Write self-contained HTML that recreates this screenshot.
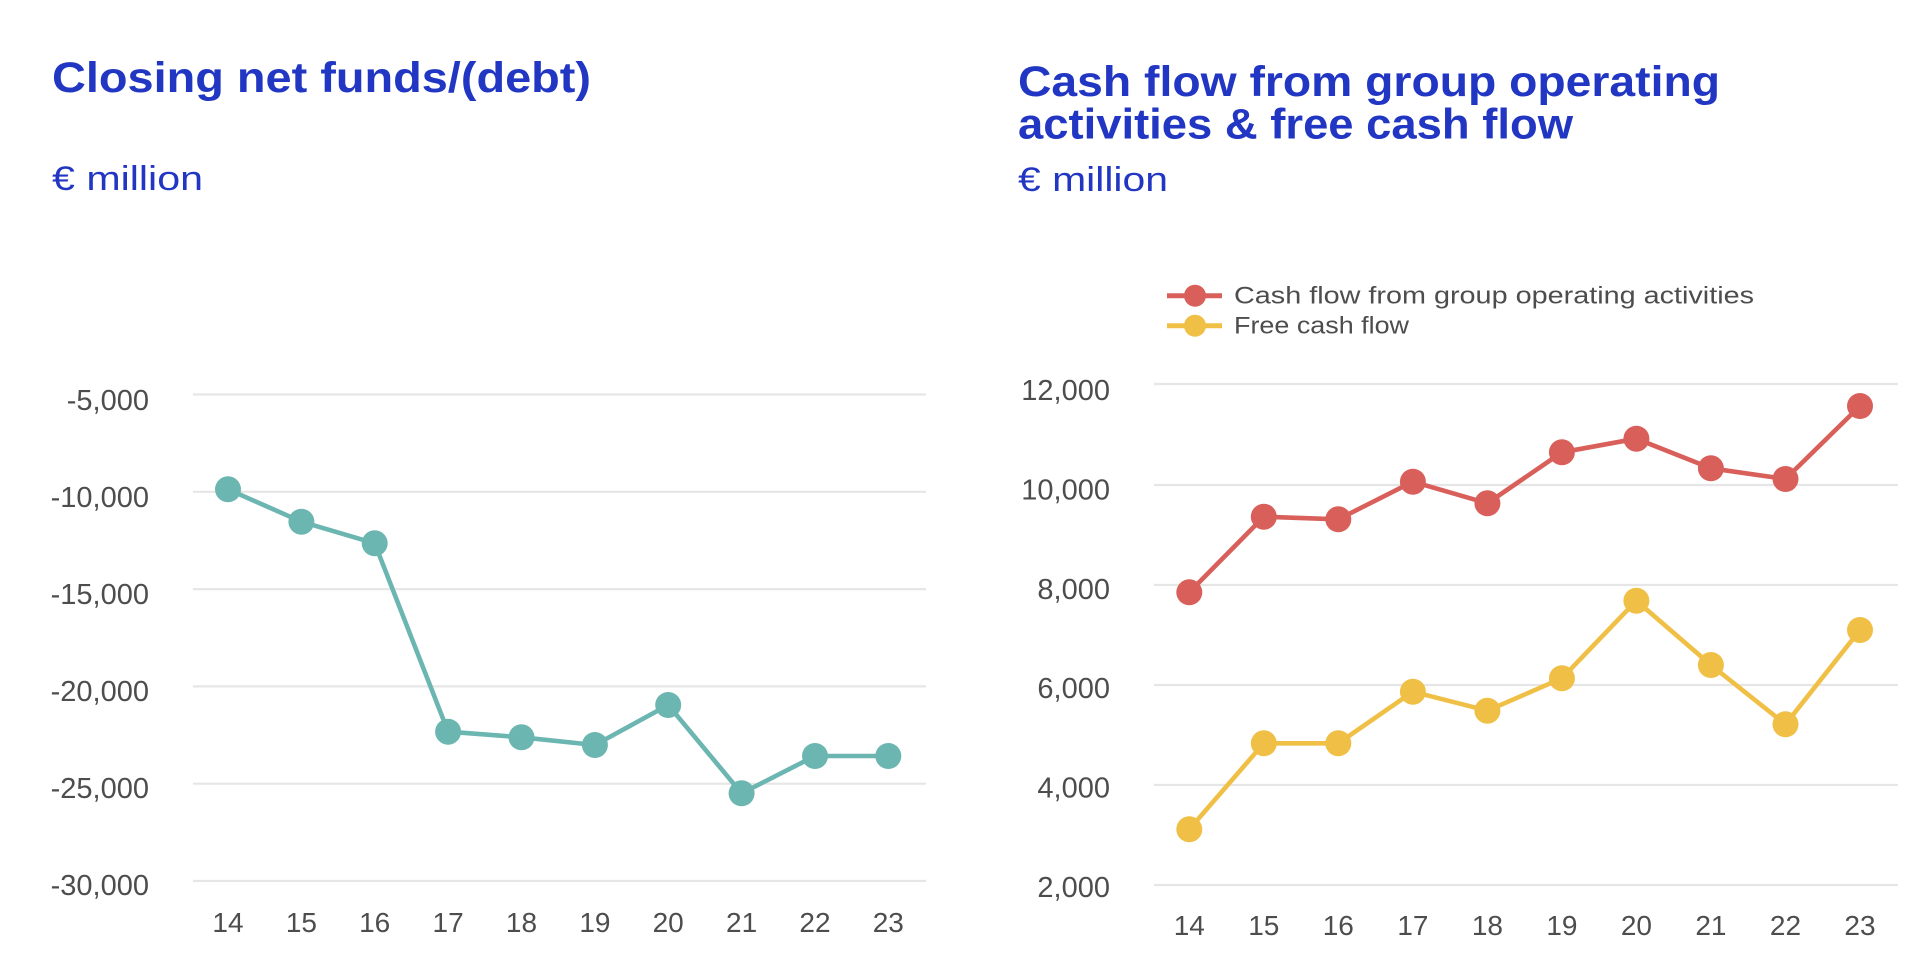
<!DOCTYPE html>
<html>
<head>
<meta charset="utf-8">
<style>
  html, body { margin: 0; padding: 0; background: #ffffff; }
  svg { display: block; }
  .title { font-family: "Liberation Sans", sans-serif; font-weight: bold; font-size: 43px; fill: #2136c2; }
  .sub { font-family: "Liberation Sans", sans-serif; font-size: 34px; fill: #2136c2; }
  .tick { font-family: "Liberation Sans", sans-serif; font-size: 29px; fill: #4d4d4d; }
  .xt { font-family: "Liberation Sans", sans-serif; font-size: 28px; fill: #4d4d4d; }
  .leg { font-family: "Liberation Sans", sans-serif; font-size: 24px; fill: #4d4d4d; }
  .grid { stroke: #e6e6e6; stroke-width: 2.2; }
</style>
</head>
<body>
<svg width="1920" height="964" viewBox="0 0 1920 964" xmlns="http://www.w3.org/2000/svg">
  <rect width="1920" height="964" fill="#ffffff"/>

  <!-- LEFT CHART -->
  <text class="title" x="52" y="92" textLength="539" lengthAdjust="spacingAndGlyphs">Closing net funds/(debt)</text>
  <text class="sub" x="52" y="190" textLength="151" lengthAdjust="spacingAndGlyphs">€ million</text>

  <g>
    <line class="grid" x1="193" x2="926" y1="394.5" y2="394.5"/>
    <line class="grid" x1="193" x2="926" y1="491.8" y2="491.8"/>
    <line class="grid" x1="193" x2="926" y1="589.1" y2="589.1"/>
    <line class="grid" x1="193" x2="926" y1="686.4" y2="686.4"/>
    <line class="grid" x1="193" x2="926" y1="783.7" y2="783.7"/>
    <line class="grid" x1="193" x2="926" y1="881" y2="881"/>
  </g>
  <g text-anchor="end">
    <text class="tick" x="149" y="410">-5,000</text>
    <text class="tick" x="149" y="507">-10,000</text>
    <text class="tick" x="149" y="604">-15,000</text>
    <text class="tick" x="149" y="701">-20,000</text>
    <text class="tick" x="149" y="798">-25,000</text>
    <text class="tick" x="149" y="895">-30,000</text>
  </g>
  <g text-anchor="middle">
    <text class="xt" x="228" y="932">14</text>
    <text class="xt" x="301.4" y="932">15</text>
    <text class="xt" x="374.7" y="932">16</text>
    <text class="xt" x="448.1" y="932">17</text>
    <text class="xt" x="521.5" y="932">18</text>
    <text class="xt" x="594.9" y="932">19</text>
    <text class="xt" x="668.2" y="932">20</text>
    <text class="xt" x="741.6" y="932">21</text>
    <text class="xt" x="815" y="932">22</text>
    <text class="xt" x="888.3" y="932">23</text>
  </g>
  <polyline fill="none" stroke="#6cb6b1" stroke-width="4.6" stroke-linejoin="round"
    points="228,489.3 301.4,521.7 374.7,543.3 448.1,731.7 521.5,737.3 594.9,745 668.2,705 741.6,793.3 815,756 888.3,756"/>
  <g fill="#6cb6b1">
    <circle cx="228" cy="489.3" r="13"/>
    <circle cx="301.4" cy="521.7" r="13"/>
    <circle cx="374.7" cy="543.3" r="13"/>
    <circle cx="448.1" cy="731.7" r="13"/>
    <circle cx="521.5" cy="737.3" r="13"/>
    <circle cx="594.9" cy="745" r="13"/>
    <circle cx="668.2" cy="705" r="13"/>
    <circle cx="741.6" cy="793.3" r="13"/>
    <circle cx="815" cy="756" r="13"/>
    <circle cx="888.3" cy="756" r="13"/>
  </g>

  <!-- RIGHT CHART -->
  <text class="title" x="1018" y="96" textLength="702" lengthAdjust="spacingAndGlyphs">Cash flow from group operating</text>
  <text class="title" x="1018" y="138.5" textLength="555" lengthAdjust="spacingAndGlyphs">activities &amp; free cash flow</text>
  <text class="sub" x="1018" y="191" textLength="150" lengthAdjust="spacingAndGlyphs">€ million</text>

  <!-- legend -->
  <line x1="1167" x2="1222" y1="295.7" y2="295.7" stroke="#d9605a" stroke-width="5"/>
  <circle cx="1195" cy="295.7" r="11" fill="#d9605a"/>
  <text class="leg" x="1234" y="303.5" textLength="520" lengthAdjust="spacingAndGlyphs">Cash flow from group operating activities</text>
  <line x1="1167" x2="1222" y1="325.7" y2="325.7" stroke="#f0bf45" stroke-width="5"/>
  <circle cx="1195" cy="325.7" r="11" fill="#f0bf45"/>
  <text class="leg" x="1234" y="333.5" textLength="175" lengthAdjust="spacingAndGlyphs">Free cash flow</text>

  <g>
    <line class="grid" x1="1154" x2="1898" y1="384" y2="384"/>
    <line class="grid" x1="1154" x2="1898" y1="485" y2="485"/>
    <line class="grid" x1="1154" x2="1898" y1="585" y2="585"/>
    <line class="grid" x1="1154" x2="1898" y1="685" y2="685"/>
    <line class="grid" x1="1154" x2="1898" y1="785" y2="785"/>
    <line class="grid" x1="1154" x2="1898" y1="885" y2="885"/>
  </g>
  <g text-anchor="end">
    <text class="tick" x="1110" y="400">12,000</text>
    <text class="tick" x="1110" y="499.5">10,000</text>
    <text class="tick" x="1110" y="599">8,000</text>
    <text class="tick" x="1110" y="698">6,000</text>
    <text class="tick" x="1110" y="797.5">4,000</text>
    <text class="tick" x="1110" y="897">2,000</text>
  </g>
  <g text-anchor="middle">
    <text class="xt" x="1189.3" y="935">14</text>
    <text class="xt" x="1263.8" y="935">15</text>
    <text class="xt" x="1338.3" y="935">16</text>
    <text class="xt" x="1412.9" y="935">17</text>
    <text class="xt" x="1487.4" y="935">18</text>
    <text class="xt" x="1561.9" y="935">19</text>
    <text class="xt" x="1636.4" y="935">20</text>
    <text class="xt" x="1710.9" y="935">21</text>
    <text class="xt" x="1785.5" y="935">22</text>
    <text class="xt" x="1860" y="935">23</text>
  </g>

  <polyline fill="none" stroke="#d9605a" stroke-width="4.6" stroke-linejoin="round"
    points="1189.3,592.3 1263.8,516.7 1338.3,519.3 1412.9,481.7 1487.4,503.3 1561.9,452.3 1636.4,438.7 1710.9,468.3 1785.5,479 1860,406"/>
  <g fill="#d9605a">
    <circle cx="1189.3" cy="592.3" r="13"/>
    <circle cx="1263.8" cy="516.7" r="13"/>
    <circle cx="1338.3" cy="519.3" r="13"/>
    <circle cx="1412.9" cy="481.7" r="13"/>
    <circle cx="1487.4" cy="503.3" r="13"/>
    <circle cx="1561.9" cy="452.3" r="13"/>
    <circle cx="1636.4" cy="438.7" r="13"/>
    <circle cx="1710.9" cy="468.3" r="13"/>
    <circle cx="1785.5" cy="479" r="13"/>
    <circle cx="1860" cy="406" r="13"/>
  </g>

  <polyline fill="none" stroke="#f0bf45" stroke-width="4.6" stroke-linejoin="round"
    points="1189.3,829.3 1263.8,743.3 1338.3,743.3 1412.9,691.7 1487.4,710.7 1561.9,678.3 1636.4,600.7 1710.9,665 1785.5,724.3 1860,630"/>
  <g fill="#f0bf45">
    <circle cx="1189.3" cy="829.3" r="13"/>
    <circle cx="1263.8" cy="743.3" r="13"/>
    <circle cx="1338.3" cy="743.3" r="13"/>
    <circle cx="1412.9" cy="691.7" r="13"/>
    <circle cx="1487.4" cy="710.7" r="13"/>
    <circle cx="1561.9" cy="678.3" r="13"/>
    <circle cx="1636.4" cy="600.7" r="13"/>
    <circle cx="1710.9" cy="665" r="13"/>
    <circle cx="1785.5" cy="724.3" r="13"/>
    <circle cx="1860" cy="630" r="13"/>
  </g>
</svg>
</body>
</html>
